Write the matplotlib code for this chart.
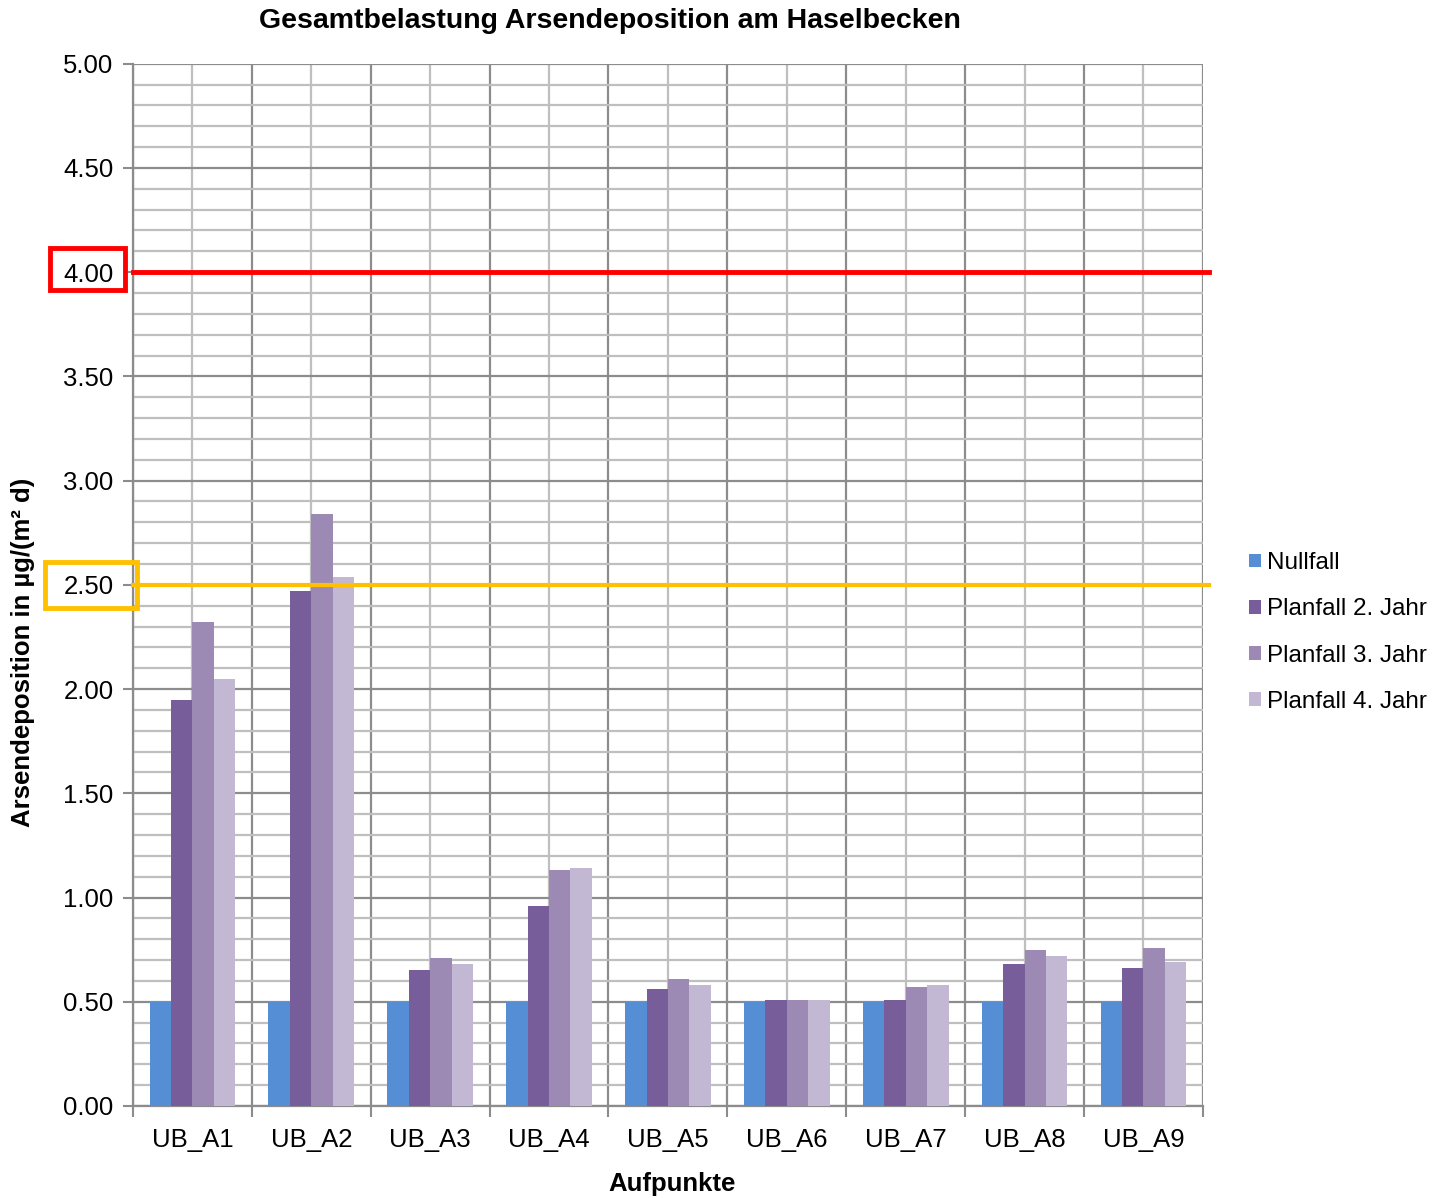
import numpy as np
import matplotlib.pyplot as plt
from matplotlib.patches import Rectangle
from matplotlib.ticker import MultipleLocator

plt.rcParams['font.family'] = ['Liberation Sans', 'DejaVu Sans']

categories = ["UB_A1", "UB_A2", "UB_A3", "UB_A4", "UB_A5", "UB_A6", "UB_A7", "UB_A8", "UB_A9"]
nullfall = [0.50, 0.50, 0.50, 0.50, 0.50, 0.50, 0.50, 0.50, 0.50]
planfall_2 = [1.95, 2.47, 0.65, 0.96, 0.56, 0.51, 0.51, 0.68, 0.66]
planfall_3 = [2.32, 2.84, 0.71, 1.13, 0.61, 0.51, 0.57, 0.75, 0.76]
planfall_4 = [2.05, 2.54, 0.68, 1.14, 0.58, 0.51, 0.58, 0.72, 0.69]
series_labels = ["Nullfall", "Planfall 2. Jahr", "Planfall 3. Jahr", "Planfall 4. Jahr"]
colors = ["#558ED5", "#775D99", "#9C8AB5", "#C3B8D3"]
limit_red = 4.00
limit_orange = 2.50

fig = plt.figure(figsize=(14.42, 11.98), dpi=100)
ax = fig.add_axes([0.0922, 0.0768, 0.742, 0.870])

x = np.arange(len(categories))
width = 0.18
series = [nullfall, planfall_2, planfall_3, planfall_4]
for i, (vals, lab, c) in enumerate(zip(series, series_labels, colors)):
    ax.bar(x + (i - 1.5) * width, vals, width, color=c, label=lab, zorder=3)

ax.set_xlim(-0.5, len(categories) - 0.5)
ax.set_ylim(0, 5)
ax.yaxis.set_major_locator(MultipleLocator(0.5))
ax.yaxis.set_minor_locator(MultipleLocator(0.1))
ax.set_yticklabels([f"{v:.2f}" for v in ax.get_yticks()])
ax.set_xticks(x)
ax.set_xticklabels(categories)
ax.set_xticks(np.arange(-0.5, len(categories)), minor=True)

# grid
ax.grid(which='major', axis='y', color='#8c8c8c', lw=1.6, zorder=0)
ax.grid(which='minor', axis='y', color='#bfbfbf', lw=1.6, zorder=0)
for b in np.arange(-0.5, len(categories)):
    ax.axvline(b, color='#8c8c8c', lw=1.6, zorder=0)
for c in x:
    ax.axvline(c, color='#bfbfbf', lw=1.6, zorder=0)

ax.tick_params(axis='x', which='major', length=0, labelsize=18.5, pad=16)
ax.tick_params(axis='x', which='minor', length=8, width=1.5, color='#8c8c8c', direction='out')
ax.tick_params(axis='y', which='major', length=7, width=1.5, color='#8c8c8c', labelsize=18.5, pad=7)
ax.tick_params(axis='y', which='minor', length=0)
for s in ['top', 'right']:
    ax.spines[s].set_visible(False)
for s in ['left', 'bottom']:
    ax.spines[s].set_color('#8c8c8c')
    ax.spines[s].set_linewidth(1.6)

# limit lines
ax.plot([-0.5, len(categories) - 0.45], [limit_red] * 2, color='#FF0000', lw=3.5, zorder=4, clip_on=False)
ax.plot([-0.5, len(categories) - 0.45], [limit_orange] * 2, color='#FFC000', lw=3, zorder=4, clip_on=False)

# boxes around tick labels
fig.patches.append(Rectangle((50 / 1442, 1 - 290 / 1198), 75 / 1442, 42 / 1198,
                             transform=fig.transFigure, fill=False, ec='#FF0000', lw=3.5))
fig.patches.append(Rectangle((45 / 1442, 1 - 608 / 1198), 92 / 1442, 46 / 1198,
                             transform=fig.transFigure, fill=False, ec='#FFC000', lw=3.5))

fig.text(610 / 1442, 1 - 21 / 1198, "Gesamtbelastung Arsendeposition am Haselbecken",
         fontsize=20.5, fontweight='bold', ha='center', va='center')
fig.text(672 / 1442, 1 - 1184 / 1198, "Aufpunkte", fontsize=18.5, fontweight='bold',
         ha='center', va='center')
fig.text(23 / 1442, 1 - 652 / 1198, "Arsendeposition in µg/(m² d)", fontsize=18.5,
         fontweight='bold', ha='center', va='center', rotation=90)

fig.legend(loc='center left', bbox_to_anchor=(0.866, 0.472), frameon=False, fontsize=17.5,
           handlelength=0.5, handleheight=0.5, handletextpad=0.25, labelspacing=1.0,
           borderpad=0, borderaxespad=0)

fig.savefig("out.png", dpi=100)
